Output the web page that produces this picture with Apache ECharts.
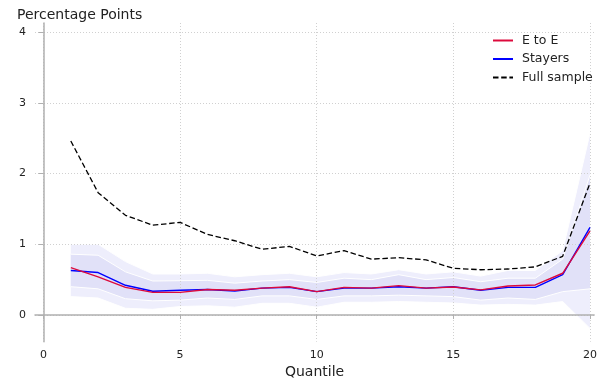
<!DOCTYPE html>
<html>
<head>
<meta charset="utf-8">
<script src="https://cdn.jsdelivr.net/npm/echarts@6/dist/echarts.min.js"></script>
<style>html,body{margin:0;padding:0;background:#fff;}#c{width:600px;height:385px;}</style>
</head>
<body>
<div id="c"></div>
<script>
const quantiles = [1,2,3,4,5,6,7,8,9,10,11,12,13,14,15,16,17,18,19,20];
const eToE = [0.67,0.54,0.39,0.32,0.32,0.36,0.35,0.38,0.40,0.33,0.39,0.38,0.415,0.38,0.395,0.355,0.41,0.425,0.59,1.19];
const stayers = [0.63,0.60,0.42,0.335,0.35,0.36,0.34,0.38,0.39,0.33,0.38,0.38,0.40,0.38,0.40,0.35,0.39,0.39,0.57,1.24];
const fullSample = [2.46,1.73,1.41,1.27,1.31,1.14,1.05,0.93,0.97,0.835,0.91,0.79,0.81,0.78,0.66,0.64,0.65,0.68,0.83,1.865];
const outerHi = [1.00,1.00,0.755,0.58,0.58,0.59,0.54,0.57,0.59,0.54,0.60,0.58,0.64,0.58,0.61,0.55,0.63,0.63,0.91,2.57];
const innerHi = [0.86,0.845,0.61,0.48,0.485,0.49,0.45,0.48,0.50,0.46,0.52,0.50,0.57,0.50,0.53,0.47,0.52,0.52,0.79,1.98];
const innerLo = [0.40,0.37,0.23,0.20,0.21,0.24,0.22,0.27,0.27,0.22,0.27,0.27,0.28,0.27,0.26,0.21,0.24,0.22,0.33,0.37];
const outerLo = [0.26,0.24,0.095,0.08,0.12,0.13,0.11,0.165,0.165,0.11,0.18,0.18,0.19,0.18,0.17,0.14,0.15,0.14,0.19,-0.19];
const xTicks = [0,5,10,15,20];
const yTicks = [0,1,2,3,4];

const FONT = 'DejaVu Sans';
const pairs = arr => quantiles.map((q,i)=>[q, arr[i]]);
const bandRows = (lo, hi) => quantiles.map((q,i)=>[q, lo[i], hi[i]]);

function bandSeries(name, lo, hi, color, z){
  return {
    name, type:'custom', silent:true, z,
    data: bandRows(lo, hi),
    encode:{x:0, y:[1,2]},
    renderItem(params, api){
      if (params.dataIndexInside !== 0) return null;
      const n = params.dataInsideLength;
      const top = [], bot = [];
      for (let i = 0; i < n; i++){
        const x = api.value(0, i);
        top.push(api.coord([x, api.value(2, i)]));
        bot.push(api.coord([x, api.value(1, i)]));
      }
      const poly = top.concat(bot.slice().reverse());
      return {
        type:'group',
        children:[
          {type:'polygon', shape:{points:poly}, style:{fill:color, stroke:null}},
          {type:'polyline', shape:{points:top}, style:{stroke:'#ffffff', lineWidth:1, fill:null}},
          {type:'polyline', shape:{points:bot}, style:{stroke:'#ffffff', lineWidth:1, fill:null}}
        ]
      };
    }
  };
}

const chart = echarts.init(document.getElementById('c'), null, {renderer:'canvas'});
chart.setOption({
  animation:false,
  backgroundColor:'#ffffff',
  textStyle:{fontFamily:FONT},
  title:{text:'Percentage Points', left:12, top:3, textStyle:{fontFamily:FONT, fontSize:14, fontWeight:'normal', color:'#222'}},
  legend:{
    data:['E to E','Stayers','Full sample'], orient:'vertical', left:492, top:34, padding:0,
    itemWidth:20, itemHeight:12, itemGap:5.5,
    itemStyle:{color:'rgba(0,0,0,0)', borderWidth:0, opacity:0},
    textStyle:{fontFamily:FONT, fontSize:12.5, color:'#222', padding:[0,0,0,4]}
  },
  grid:{left:35, right:0, top:23, bottom:43.3, containLabel:false},
  xAxis:{
    type:'value', min:-0.31, max:20.15, z:3,
    name:'Quantile', nameLocation:'middle', nameGap:24,
    nameTextStyle:{fontFamily:FONT, fontSize:14, color:'#222'},
    axisLine:{show:true, lineStyle:{color:'#b0b0b0', width:1.5}},
    axisTick:{show:true, length:4, customValues:xTicks, lineStyle:{color:'#b0b0b0'}},
    axisLabel:{customValues:xTicks, margin:8, fontFamily:FONT, fontSize:11, color:'#222'},
    splitLine:{show:true, lineStyle:{color:'#d0d0d0', type:[1,2], width:1}}
  },
  yAxis:{
    type:'value', min:-0.378, max:4.13, z:3,
    axisLine:{show:true, lineStyle:{color:'#b0b0b0', width:1.5}},
    axisTick:{show:true, length:5, customValues:yTicks, lineStyle:{color:'#b0b0b0'}},
    axisLabel:{customValues:yTicks, margin:9, fontFamily:FONT, fontSize:11, color:'#222'},
    splitLine:{show:true, lineStyle:{color:'#d0d0d0', type:[1,2], width:1}}
  },
  series:[
    bandSeries('outerBand', outerLo, outerHi, '#eeeefc', 1),
    bandSeries('innerBand', innerLo, innerHi, '#e1e1f8', 2),
    {name:'Full sample', type:'line', data:pairs(fullSample), symbol:'none', z:5,
      lineStyle:{color:'#000000', width:1.3, type:[5.5,2.7]}, itemStyle:{color:'#000000'}},
    {name:'Stayers', type:'line', data:pairs(stayers), symbol:'none', z:6,
      lineStyle:{color:'#0000ff', width:1.4}, itemStyle:{color:'#0000ff'}},
    {name:'E to E', type:'line', data:pairs(eToE), symbol:'none', z:7,
      lineStyle:{color:'#dc0a3c', width:1.4}, itemStyle:{color:'#dc0a3c'}}
  ]
});
</script>
</body>
</html>
